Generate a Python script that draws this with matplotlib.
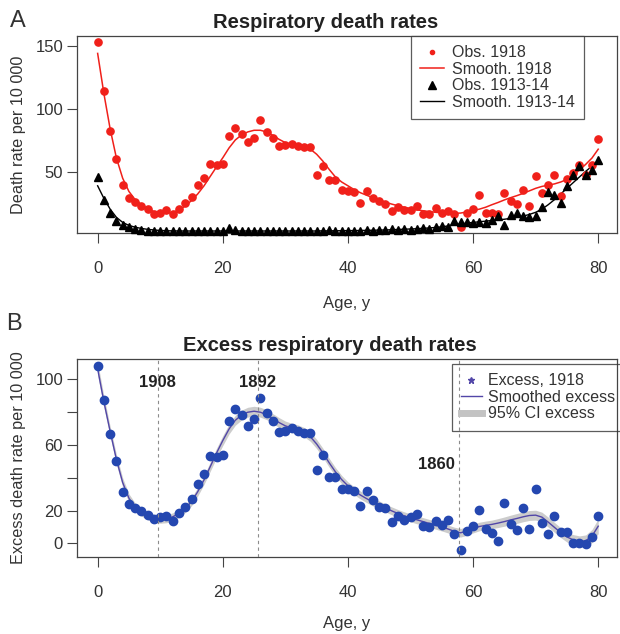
import matplotlib
matplotlib.use("Agg")
import matplotlib.pyplot as plt
from matplotlib.lines import Line2D

plt.rcParams["font.family"] = ["Liberation Sans", "DejaVu Sans"]

OUT_FILE = "out.png"

ages = list(range(81))

# panel A: observed and smoothed respiratory death rates per 10 000
obs_1918 = [153, 114, 82.5, 60, 39.3, 29.7, 26.5, 23.3, 20.6, 17,
            17.4, 19.6, 16.4, 20.4, 25.7, 30, 39.3, 45.4, 56.4, 55.6,
            56.4, 78.2, 85, 80.4, 73.7, 77.2, 91.3, 81.7, 77.2, 70.5,
            71.3, 72.1, 70.5, 69.7, 69.7, 47.3, 54.5, 43.8, 43.8, 35.8,
            34.5, 34, 25.7, 35, 29.2, 26.8, 24.9, 19.4, 22.5, 19.6,
            19.6, 23, 17, 17, 21.2, 17.2, 19, 17, 6, 17.7,
            20.4, 31.8, 17.7, 17.7, 16.4, 33.2, 27.3, 24.6, 35.8, 23,
            47, 33.2, 39.6, 47.8, 31, 44.4, 48.8, 55.5, 47.4, 55.8, 76.4]
obs_1913 = [45.7, 27.8, 17.2, 11.3, 7.8, 6, 4.6, 4, 3.5, 3.2,
            3, 2.8, 2.8, 2.8, 2.8, 3, 3, 3, 3.2, 3.4,
            3.4, 5.2, 3.6, 3.4, 3.2, 3, 3.2, 3.4, 3, 3.2,
            3, 3.2, 3, 3.2, 3, 3, 3.2, 4.2, 3.4, 3.2,
            3, 3.2, 3.4, 3.6, 3.2, 3.8, 3.6, 4.8, 4.2, 4.4,
            3.6, 4.8, 5.6, 5, 6.5, 7.5, 6, 11.5, 10.5, 10.5,
            9.2, 10.5, 9.2, 11.8, 15, 7.8, 15.8, 17.7, 15, 14.5,
            15, 21.9, 33.7, 31.8, 25.2, 38.5, 47.8, 54.5, 47.8, 51.8, 59.8]
smooth_1918 = [143.9, 112, 84, 61, 45, 34.5, 28, 24, 20.8, 18.6,
               17.4, 17.2, 18, 19.8, 23, 27.3, 32.6, 39, 46.5, 54,
               61.2, 69, 75.3, 79.3, 81.7, 83, 83, 81.7, 79, 75.8,
               73.2, 71.8, 71, 69.9, 68, 64, 58.5, 52, 46, 42,
               39, 36, 33.5, 31.5, 29.5, 27.8, 26, 24.5, 23.2, 22,
               21, 20, 19.2, 18.6, 18, 17.6, 17.3, 17.2, 17.4, 18.3,
               19.5, 20.5, 22, 24, 25.8, 27.8, 29.6, 31.2, 33, 35,
               37, 38.5, 39.5, 40.5, 42, 44, 47.5, 51.5, 56, 61, 68]
smooth_1913 = [39, 29, 20.5, 14, 10, 7.6, 6.2, 5.2, 4.5, 4,
               3.6, 3.4, 3.3, 3.2, 3.2, 3.2, 3.2, 3.2, 3.2, 3.2,
               3.2, 3.2, 3.2, 3.2, 3.2, 3.2, 3.2, 3.2, 3.2, 3.2,
               3.2, 3.2, 3.2, 3.2, 3.2, 3.2, 3.3, 3.3, 3.4, 3.4,
               3.5, 3.5, 3.6, 3.7, 3.8, 3.9, 4, 4.2, 4.4, 4.6,
               4.8, 5, 5.3, 5.6, 6, 6.5, 7.2, 8, 8.8, 9.4,
               10, 10.5, 11, 11.5, 12, 12.5, 13.2, 14, 15, 16.3,
               18, 20.5, 24, 28, 32.5, 37, 41.5, 46, 50.5, 54.5, 58.5]

# panel B: excess deaths, smoothed excess and 95% CI half width
excess_1918 = [107.7, 87.4, 66.4, 49.8, 31.1, 23.8, 21.3, 19.9, 17.3, 14.6,
               16.2, 16.9, 13.8, 18.7, 22.3, 26.8, 36.2, 42.3, 53.2, 52.4,
               53.9, 74.6, 81.7, 78.2, 71.1, 75.6, 88.2, 79.4, 74.6, 67.7,
               68.1, 70.1, 68.1, 67.1, 67.1, 44.7, 53.9, 40.2, 40.6, 33.1,
               33.1, 32.1, 22.9, 31.9, 26.4, 22.3, 21.3, 13.2, 16.8, 14,
               15.8, 17.7, 10.5, 9.9, 13.6, 11, 14, 5.5, -4.1, 7.5,
               10.5, 20.6, 9.1, 6.5, 1.5, 24.4, 12, 8.1, 21.8, 8.5,
               32.9, 12.6, 5.8, 16.6, 7.1, 7, 0.5, 0, -0.6, 4, 16.6]
smooth_excess = [106, 86, 68, 51, 37, 27.5, 22, 19, 16.8, 15.3,
                 14.7, 15, 16.2, 18.3, 21.3, 25.4, 31.5, 38.6, 46.7, 54.9,
                 62.5, 69.5, 74.8, 78, 79.7, 80.3, 79.7, 78.2, 75.8, 73.4,
                 71.4, 70.2, 69.2, 67.6, 64.8, 60.4, 55, 49, 43.5, 38.8,
                 35, 32, 29.4, 27.2, 25.2, 23.4, 21.6, 19.8, 18.2, 16.8,
                 15.6, 14.4, 13.3, 12.2, 11.1, 10, 8.8, 7.4, 6.5, 7.5,
                 9, 10.3, 11, 11.6, 12.4, 13.3, 14.3, 15.2, 16.2, 17,
                 17.2, 16, 13, 9.8, 6.6, 4, 2.2, 1.2, 1.6, 4.5, 10.5]
ci_half = [4, 3.5, 3, 3, 2.8, 2.6, 2.5, 2.4, 2.4, 2.4,
           2.4, 2.4, 2.4, 2.4, 2.5, 2.5, 2.6, 2.7, 2.8, 2.9,
           3, 3, 3, 3, 3, 3, 3, 3, 3, 3,
           2.9, 2.8, 2.8, 2.8, 2.8, 2.8, 2.8, 2.7, 2.6, 2.5,
           2.4, 2.4, 2.4, 2.4, 2.4, 2.4, 2.4, 2.4, 2.4, 2.4,
           2.4, 2.4, 2.4, 2.4, 2.4, 2.4, 2.4, 2.5, 2.6, 2.6,
           2.6, 2.6, 2.6, 2.6, 2.7, 2.8, 2.9, 3, 3, 3,
           3, 3, 3, 3, 3, 3.1, 3.2, 3.4, 3.6, 4, 4.5]

cohort_years = ["1908", "1892", "1860"]
cohort_ages = [9.6, 25.6, 57.8]

x_ticks = [0, 20, 40, 60, 80]
yticks_a = [50, 100, 150]
yticks_b = [0, 20, 40, 60, 80, 100]
ylabels_b = ["0", "20", "", "60", "", "100"]

TXT = "#333333"
RED = "#f0201a"
BLUE = "#2447b0"
PURPLE = "#5246a8"
GREY = "#c3c3c3"


def style_axes(ax):
    for s in ax.spines.values():
        s.set_color("#444444")
        s.set_linewidth(0.9)
    ax.set_xlim(-3.3, 83.0)
    ax.set_xticks(x_ticks)
    ax.tick_params(axis="x", length=7, width=0.8, color="#444444",
                   labelsize=12, labelcolor=TXT, pad=13)
    ax.tick_params(axis="y", length=7, width=0.8, color="#444444",
                   labelsize=12, labelcolor=TXT, pad=3)
    ax.set_xlabel("Age, y", fontsize=12, color=TXT)


def make_legend(ax, handles, labels, anchor, handlelength, textpad, face):
    leg = ax.legend(handles, labels, loc="upper left", bbox_to_anchor=anchor,
                    borderaxespad=0, fontsize=11.5, frameon=True,
                    fancybox=False, borderpad=0.58, handlelength=handlelength,
                    handletextpad=textpad, labelspacing=0.1, facecolor=face)
    leg.get_frame().set_edgecolor("#333333")
    leg.get_frame().set_linewidth(0.9)
    for t in leg.get_texts():
        t.set_color(TXT)
    return leg


def main():
    fig = plt.figure(figsize=(6.2, 6.34), dpi=100)
    ax_a = fig.add_axes([77 / 620, 1 - 233 / 634, 540 / 620, 197 / 634])
    ax_b = fig.add_axes([77 / 620, 1 - 557 / 634, 540 / 620, 198 / 634])

    # ---- A
    ax_a.plot(ages, smooth_1918, color=RED, lw=1.1, zorder=2)
    ax_a.plot(ages, smooth_1913, color="black", lw=1.0, zorder=2)
    ax_a.plot(ages, obs_1918, ls="none", marker="o", ms=5.2, color=RED,
              mec=RED, zorder=3)
    ax_a.plot(ages, obs_1913, ls="none", marker="^", ms=5.5, color="black",
              zorder=3, clip_on=False)
    style_axes(ax_a)
    ax_a.xaxis.set_label_coords(0.5, -0.32)
    ax_a.set_ylim(1.6, 157.7)
    ax_a.set_yticks(yticks_a)
    ax_a.set_ylabel("Death rate per 10 000", fontsize=11.7, color=TXT)
    ax_a.yaxis.set_label_coords(-0.094, 0.5)
    ax_a.set_title("Respiratory death rates", fontsize=14.5, fontweight="bold",
                   color="#222222", x=0.461, pad=6)

    handles_a = [
        Line2D([], [], ls="none", marker="o", ms=3, color=RED),
        Line2D([], [], color=RED, lw=1.1),
        Line2D([], [], ls="none", marker="^", ms=5.5, color="black"),
        Line2D([], [], color="black", lw=1.0),
    ]
    make_legend(ax_a, handles_a,
                ["Obs. 1918", "Smooth. 1918", "Obs. 1913-14", "Smooth. 1913-14"],
                (0.6185, 1.0), 1.5, 0.46, "white")

    # ---- B
    lower = [m - h for m, h in zip(smooth_excess, ci_half)]
    upper = [m + h for m, h in zip(smooth_excess, ci_half)]
    ax_b.fill_between(ages, lower, upper, color=GREY, alpha=0.85, lw=0, zorder=1)
    ax_b.plot(ages, smooth_excess, color=PURPLE, lw=1.0, zorder=2)
    ax_b.plot(ages, excess_1918, ls="none", marker="o", ms=6, color=BLUE,
              mec=BLUE, zorder=3)
    for a in cohort_ages:
        ax_b.axvline(a, color="#8c8c8c", lw=0.8, ls=(0, (3, 3)), zorder=4)
    ax_b.text(cohort_ages[0], 97.9, cohort_years[0], ha="center", va="center",
              fontsize=12, fontweight="bold", color="#222222")
    ax_b.text(cohort_ages[1], 97.9, cohort_years[1], ha="center", va="center",
              fontsize=12, fontweight="bold", color="#222222")
    ax_b.text(cohort_ages[2] - 0.7, 47.7, cohort_years[2], ha="right",
              va="center", fontsize=12, fontweight="bold", color="#222222")
    style_axes(ax_b)
    ax_b.xaxis.set_label_coords(0.5, -0.298)
    ax_b.set_ylim(-8.2, 112.0)
    ax_b.set_yticks(yticks_b)
    ax_b.set_yticklabels(ylabels_b)
    ax_b.set_ylabel("Excess death rate per 10 000", fontsize=11.7, color=TXT)
    ax_b.yaxis.set_label_coords(-0.094, 0.5)
    ax_b.set_title("Excess respiratory death rates", fontsize=14.5,
                   fontweight="bold", color="#222222", x=0.4685, pad=6)

    handles_b = [
        Line2D([], [], ls="none", marker="*", ms=4.5, color=PURPLE),
        Line2D([], [], color=PURPLE, lw=1.0),
        Line2D([], [], color=GREY, lw=5),
    ]
    make_legend(ax_b, handles_b, ["Excess, 1918", "Smoothed excess",
                                  "95% CI excess"],
                (0.694, 0.975), 1.3, 0.38, "none")

    fig.text(18 / 620, 1 - 21 / 634, "A", fontsize=17, color=TXT,
             ha="center", va="center")
    fig.text(14 / 620, 1 - 324 / 634, "B", fontsize=17, color=TXT,
             ha="center", va="center")

    fig.savefig(OUT_FILE, dpi=100)
    print(f"saved {OUT_FILE}")


if __name__ == "__main__":
    main()
